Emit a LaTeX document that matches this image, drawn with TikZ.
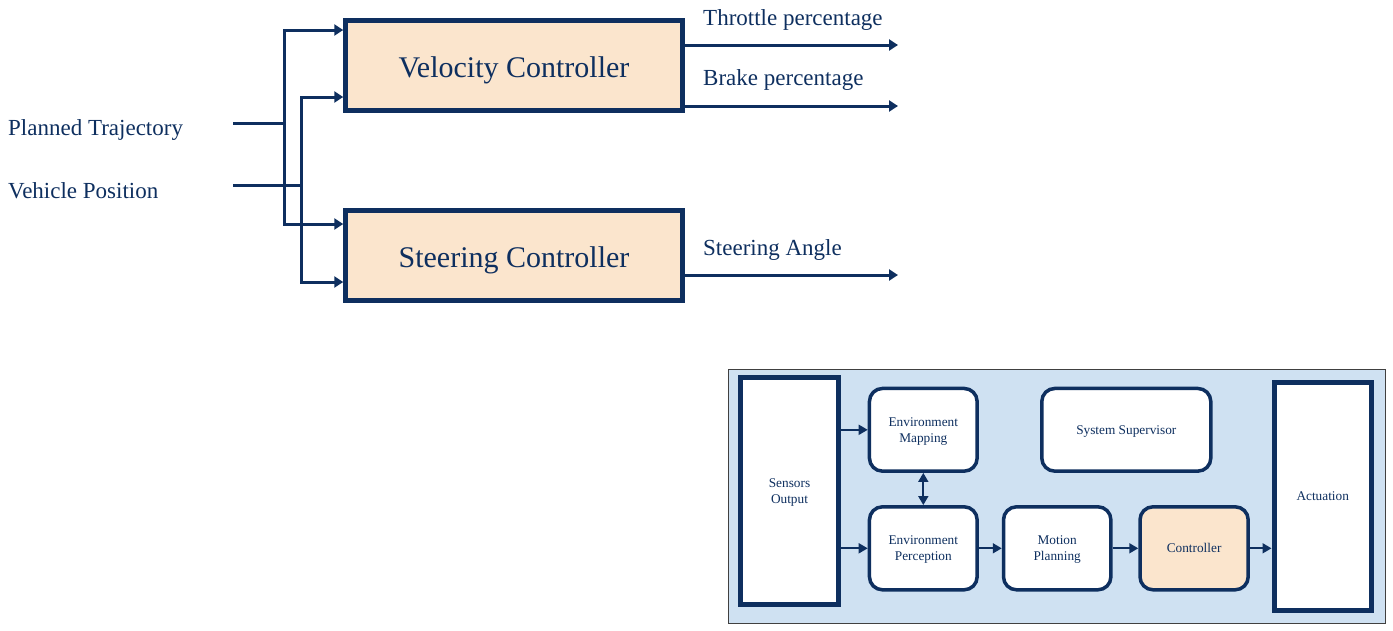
\documentclass[tikz,border=0pt]{standalone}
\usepackage{fontspec}
\setmainfont{Liberation Serif}
\usetikzlibrary{arrows.meta,calc}
\definecolor{navy}{HTML}{0E2F5F}
\definecolor{peach}{HTML}{FBE5CD}
\definecolor{panelblue}{HTML}{CFE1F2}
\definecolor{panelline}{HTML}{404040}
\tikzset{
  bigbox/.style={draw=navy, fill=peach, line width=4.5pt, minimum width=337pt, minimum height=90pt, inner sep=0pt, text depth=0pt, text=navy, font=\fontsize{30}{34}\selectfont},
  lbl/.style={inner sep=0pt, text=navy, font=\fontsize{23}{26}\selectfont, anchor=base west},
  ln/.style={draw=navy, line width=3pt},
  arr/.style={draw=navy, line width=3pt, -{Triangle[length=9pt,width=11pt]}},
  tallbox/.style={draw=navy, fill=white, line width=5pt, inner sep=0pt, text depth=0pt, text=navy, align=center, font=\fontsize{13.3}{16}\selectfont},
  rbox/.style={draw=navy, fill=white, line width=3.5pt, rounded corners=13pt, inner sep=0pt, text depth=0pt, text=navy, align=center, font=\fontsize{13.3}{16}\selectfont},
  sarr/.style={draw=navy, line width=1.8pt, -{Triangle[length=9pt,width=10pt]}},
  darr/.style={draw=navy, line width=1.8pt, {Triangle[length=9pt,width=10pt]}-{Triangle[length=9pt,width=10pt]}},
}
\begin{document}
\begin{tikzpicture}[x=1pt,y=-1pt]
\useasboundingbox (0,0) rectangle (1393,630);
% ---------- top diagram ----------
\node[bigbox] (vel) at (514,65.5) {\raisebox{-2.5pt}{Velocity Controller}};
\node[bigbox] (ste) at (514,255.5) {\raisebox{-2.5pt}{Steering Controller}};
\node[lbl] (pt) at (8,135) {Planned Trajectory};
\node[lbl] (vp) at (8,198) {Vehicle Position};
\coordinate (in1) at (233,123);
\coordinate (in2) at (233,185);
\coordinate (b1) at (284,123);
\coordinate (b2) at (301,185);
\draw[ln] (in1) -- (b1);
\draw[ln] (in2) -- (b2);
\draw[arr] (b1) |- (vel.west |- 0,30);
\draw[arr] (b1) |- (ste.west |- 0,224);
\draw[arr] (b2) |- (vel.west |- 0,97);
\draw[arr] (b2) |- (ste.west |- 0,282);
\coordinate (o1) at (898,45);
\coordinate (o2) at (898,106);
\coordinate (o3) at (898,275);
\draw[arr] (vel.east |- o1) -- (o1);
\draw[arr] (vel.east |- o2) -- (o2);
\draw[arr] (ste.east |- o3) -- (o3);
\node[lbl] (tp) at (703,25) {Throttle percentage};
\node[lbl] (bp) at (703,85) {Brake percentage};
\node[lbl] (sa) at (703,255) {Steering Angle};
% ---------- bottom diagram ----------
\node[draw=panelline, fill=panelblue, line width=1pt, minimum width=657pt, minimum height=254.5pt, inner sep=0pt] (panel) at (1057,496.25) {};
\node[tallbox, minimum width=98pt, minimum height=227pt] (sen) at (789.5,491) {Sensors\\Output};
\node[tallbox, minimum width=97.5pt, minimum height=227.5pt] (act) at (1322.75,496.25) {Actuation};
\node[rbox, minimum width=107.7pt, minimum height=82.7pt] (map) at (923.3,429.8) {Environment\\Mapping};
\node[rbox, minimum width=169pt, minimum height=82.7pt] (sup) at (1126.3,429.8) {System Supervisor};
\node[rbox, minimum width=107.7pt, minimum height=83pt] (per) at (923.3,548.3) {Environment\\Perception};
\node[rbox, minimum width=107.4pt, minimum height=83pt] (mot) at (1057.2,548.3) {Motion\\Planning};
\node[rbox, fill=peach, minimum width=108.2pt, minimum height=83pt] (ctl) at (1194.1,548.3) {Controller};
\draw[sarr] (sen.east |- map.west) -- (map.west);
\draw[sarr] (sen.east |- per.west) -- (per.west);
\draw[sarr] (per.east) -- (mot.west);
\draw[sarr] (mot.east) -- (ctl.west);
\draw[sarr] (ctl.east) -- (act.west |- ctl.east);
\draw[darr] (map.south) -- (per.north);
\end{tikzpicture}
\end{document}
